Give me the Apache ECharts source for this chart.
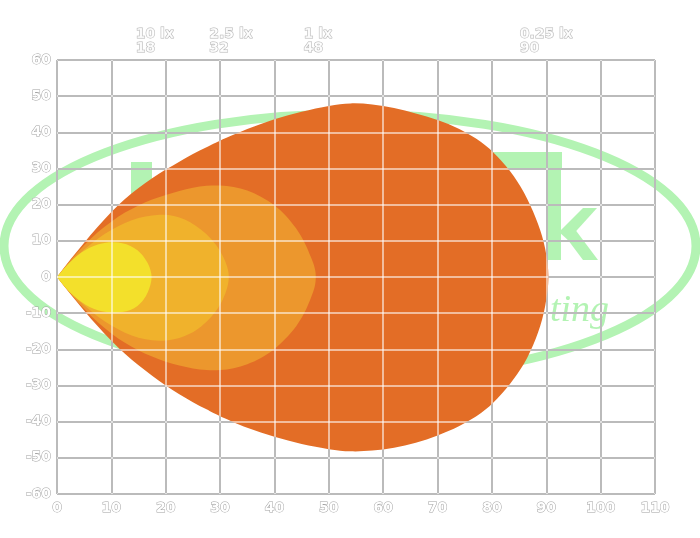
<!DOCTYPE html>
<html>
<head>
<meta charset="utf-8">
<script src="https://cdn.jsdelivr.net/npm/echarts@6/dist/echarts.min.js"></script>
<style>html,body{margin:0;padding:0;background:#fff}#c{width:700px;height:538px}</style>
</head>
<body>
<div id="c"></div>
<script>
// ---- data ----
const xTicks = [0, 10, 20, 30, 40, 50, 60, 70, 80, 90, 100, 110];
const yTicks = [-60, -50, -40, -30, -20, -10, 0, 10, 20, 30, 40, 50, 60];
const illumLabels = ['10 lx', '2.5 lx', '1 lx', '0.25 lx'];
const illumDistances = [18, 32, 48, 90];

// isolux contours: [distance m, half-width m]; upper edge and lower edge, from the lamp (0,0) to the far tip
const lx025Upper = [[2.5,4.9],[5,9.5],[7.5,13.9],[10,18.0],[12.5,21.6],[15,24.6],[17.5,27.3],[20,29.7],[22.5,31.9],[25,34.0],[27.5,35.9],[30,37.7],[35,40.9],[40,43.6],[45,45.7],[50,47.3],[54,48.0],[58,47.7],[62,46.7],[66,45.2],[70,43.4],[74,40.9],[78,37.3],[81,33.3],[84,27.9],[86.5,21.6],[88.5,14.6],[89.8,7.8],[90.4,0]];
const lx025Lower = [[2.5,-4.8],[5,-9.3],[7.5,-13.6],[10,-17.6],[12.5,-21.2],[15,-24.4],[17.5,-27.3],[20,-30.0],[22.5,-32.4],[25,-34.6],[27.5,-36.6],[30,-38.5],[35,-41.7],[40,-44.2],[45,-46.2],[50,-47.6],[54,-48.2],[58,-48.0],[62,-47.2],[66,-45.8],[70,-43.8],[74,-41.2],[78,-37.6],[81,-33.6],[84,-28.2],[86.5,-22.3],[88.5,-15.3],[89.8,-8.0]];
const lx1Upper = [[2.5,4.6],[5,8.8],[7.5,12.4],[10,15.3],[12.5,17.8],[15,19.8],[17.5,21.4],[20,22.7],[22.5,23.8],[25,24.7],[27.5,25.2],[30,25.3],[32.5,24.9],[35,23.9],[37.5,22.2],[40,19.8],[42,17.1],[44,13.4],[45.5,9.6],[46.7,5.5],[47.4,2.5],[47.6,0]];
const lx1Lower = [[2.5,-4.6],[5,-8.8],[7.5,-12.5],[10,-15.6],[12.5,-18.2],[15,-20.3],[17.5,-22.0],[20,-23.4],[22.5,-24.5],[25,-25.3],[27.5,-25.7],[30,-25.7],[32.5,-25.2],[35,-24.1],[37.5,-22.4],[40,-19.9],[42,-17.1],[44,-13.6],[45.5,-9.9],[46.7,-5.8],[47.4,-2.7]];
const lx25Upper = [[2.5,4.2],[5,7.6],[7.5,10.6],[10,13.0],[12.5,14.9],[15,16.3],[17.5,17.0],[19.5,17.2],[21.5,16.9],[23.5,15.9],[25.5,14.2],[27.5,11.8],[29.2,9.0],[30.5,5.8],[31.3,2.8],[31.6,0]];
const lx25Lower = [[2.5,-4.2],[5,-7.8],[7.5,-10.9],[10,-13.4],[12.5,-15.4],[15,-16.8],[17.5,-17.5],[19.5,-17.6],[21.5,-17.2],[23.5,-16.3],[25.5,-14.8],[27.5,-12.4],[29.2,-9.5],[30.5,-6.2],[31.3,-3.0]];
const lx10Upper = [[1.5,2.7],[3,5.0],[4.5,6.8],[6,8.1],[7.5,9.0],[9,9.5],[10.5,9.6],[12,9.3],[13.5,8.6],[14.8,7.4],[15.9,5.7],[16.7,3.8],[17.2,1.9],[17.4,0]];
const lx10Lower = [[1.5,-2.8],[3,-5.1],[4.5,-6.9],[6,-8.3],[7.5,-9.2],[9,-9.7],[10.5,-9.9],[12,-9.7],[13.5,-9.1],[14.8,-8.0],[15.9,-6.3],[16.7,-4.2],[17.2,-2.1]];

const zoneUpper = [lx025Upper, lx1Upper, lx25Upper, lx10Upper];
const zoneLower = [lx025Lower, lx1Lower, lx25Lower, lx10Lower];
const zoneColors = ['#E36D26', '#EC972D', '#F0B22C', '#F3E02B'];

// ---- styles ----
const FONT = 'DejaVu Sans';
const FS = 14;
const labelStyle = {color: '#ffffff', textBorderColor: '#a2a2a2', textBorderWidth: 1, fontFamily: FONT, fontWeight: 'bold', fontSize: FS};
const WM = '#b3f3b3';

function textWidth(t) {
  const c = document.createElement('canvas').getContext('2d');
  c.font = 'bold ' + FS + 'px "' + FONT + '"';
  return c.measureText(t).width;
}

// closed smooth path through pixel points (Catmull-Rom as cubic Bezier); sharp corner at point 0
function smoothClosedPath(P) {
  const n = P.length;
  const g = i => P[(i + n) % n];
  let d = 'M' + P[0][0] + ',' + P[0][1];
  for (let i = 0; i < n; i++) {
    const p0 = g(i - 1), p1 = g(i), p2 = g(i + 1), p3 = g(i + 2);
    let c1, c2;
    if (i === 0) c1 = [p1[0] + (p2[0] - p1[0]) / 3, p1[1] + (p2[1] - p1[1]) / 3];
    else c1 = [p1[0] + (p2[0] - p0[0]) / 6, p1[1] + (p2[1] - p0[1]) / 6];
    if ((i + 1) % n === 0) c2 = [p2[0] + (p1[0] - p2[0]) / 3, p2[1] + (p1[1] - p2[1]) / 3];
    else c2 = [p2[0] - (p3[0] - p1[0]) / 6, p2[1] - (p3[1] - p1[1]) / 6];
    d += 'C' + c1[0] + ',' + c1[1] + ' ' + c2[0] + ',' + c2[1] + ' ' + p2[0] + ',' + p2[1];
  }
  return d + 'Z';
}

const chart = echarts.init(document.getElementById('c'), null, {renderer: 'canvas'});

const zoneSeries = zoneUpper.map((up, k) => {
  const pts = [[0, 0]].concat(up, zoneLower[k].slice().reverse());
  return {
    type: 'custom',
    z: 2 + k,
    silent: true,
    clip: false,
    data: pts,
    encode: {x: 0, y: 1},
    renderItem: function (params, api) {
      if (params.dataIndex !== 0) return null;
      const px = pts.map(p => api.coord(p));
      return {type: 'path', shape: {pathData: smoothClosedPath(px)}, style: {fill: zoneColors[k]}};
    }
  };
});

// background logo (watermark) drawn beneath the grid
const logoSeries = {
  type: 'custom',
  coordinateSystem: 'none',
  z: -1,
  silent: true,
  data: [0],
  renderItem: function () {
    return {
      type: 'group',
      children: [
        {type: 'ellipse', shape: {cx: 350, cy: 246, rx: 346, ry: 132}, style: {fill: 'none', stroke: WM, lineWidth: 9}},
        {type: 'rect', shape: {x: 131, y: 162, width: 21, height: 110}, style: {fill: WM}},
        {type: 'rect', shape: {x: 470, y: 152, width: 92, height: 16}, style: {fill: WM}},
        {type: 'rect', shape: {x: 547, y: 152, width: 14, height: 108}, style: {fill: WM}},
        {type: 'polygon', shape: {points: [[559, 232], [583, 208], [597, 208], [568, 240]]}, style: {fill: WM}},
        {type: 'polygon', shape: {points: [[562, 232], [574, 228], [598, 260], [583, 260]]}, style: {fill: WM}},
        {type: 'text', x: 550, y: 330, style: {text: 'ting', font: 'italic 38px "Liberation Serif"', fill: WM, verticalAlign: 'bottom'}}
      ]
    };
  }
};

const topLabelSeries = {
  type: 'scatter',
  symbolSize: 0,
  clip: false,
  silent: true,
  z: 8,
  data: illumDistances.map((d, i) => ({
    value: [d, yTicks[yTicks.length - 1]],
    label: {offset: [-textWidth(illumLabels[i]) / 2, 0]}
  })),
  label: Object.assign({
    show: true, position: 'top', distance: 5, align: 'left', lineHeight: 14,
    formatter: p => illumLabels[p.dataIndex] + '\n' + illumDistances[p.dataIndex]
  }, labelStyle)
};

const axisCommonX = {type: 'value', min: xTicks[0], max: xTicks[xTicks.length - 1], interval: 10};
const axisCommonY = {type: 'value', min: yTicks[0], max: yTicks[yTicks.length - 1], interval: 10};

const option = {
  animation: false,
  backgroundColor: '#ffffff',
  grid: {left: 57, right: 45, top: 60, bottom: 44, containLabel: false, outerBoundsMode: 'none'},
  xAxis: [
    Object.assign({}, axisCommonX, {
      position: 'bottom', z: 0,
      axisLine: {show: false}, axisTick: {show: false},
      axisLabel: Object.assign({margin: 7}, labelStyle),
      splitLine: {show: true, lineStyle: {color: '#686868', width: 2}}
    }),
    Object.assign({}, axisCommonX, {
      position: 'bottom', z: 12,
      axisLine: {show: false}, axisTick: {show: false}, axisLabel: {show: false},
      splitLine: {show: true, lineStyle: {color: 'rgba(255,255,255,0.55)', width: 2}}
    })
  ],
  yAxis: [
    Object.assign({}, axisCommonY, {
      position: 'left', z: 0,
      axisLine: {show: false}, axisTick: {show: false},
      axisLabel: Object.assign({margin: 6}, labelStyle),
      splitLine: {show: true, lineStyle: {color: '#686868', width: 2}}
    }),
    Object.assign({}, axisCommonY, {
      position: 'left', z: 12,
      axisLine: {show: false}, axisTick: {show: false}, axisLabel: {show: false},
      splitLine: {show: true, lineStyle: {color: 'rgba(255,255,255,0.55)', width: 2}}
    })
  ],
  series: [logoSeries].concat(zoneSeries, [topLabelSeries])
};
chart.setOption(option);
</script>
</body>
</html>
